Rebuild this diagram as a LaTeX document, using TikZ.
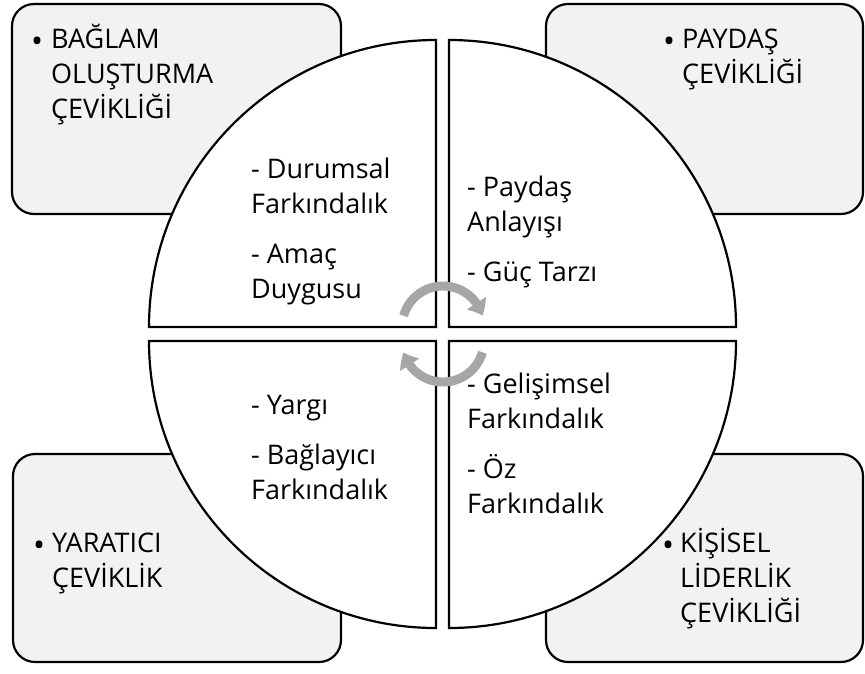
\documentclass[tikz,border=0pt]{standalone}
\usepackage{fontspec}
\setmainfont{Open Sans}
\usetikzlibrary{arrows.meta,bending}
\definecolor{boxgray}{HTML}{F2F2F2}
\definecolor{arrowgray}{HTML}{A6A6A6}
\newcommand{\bul}{{\fontsize{32}{35}\selectfont\raisebox{-4.5pt}{•}}}
\begin{document}
\begin{tikzpicture}[x=1pt,y=-1pt,
  box/.style={draw=black, line width=2.2pt, fill=boxgray, rounded corners=22pt},
  quad/.style={draw=black, line width=2.2pt, fill=white},
  txt/.style={anchor=base west, inner sep=0pt, font=\fontsize{27}{35}\selectfont},
  bullet/.style={anchor=base west, inner sep=0pt},
  cyc/.style={draw=arrowgray, line width=9pt, -{Triangle[width=22pt,length=14pt,bend]}}
]
\useasboundingbox (0,0) rectangle (865,673);
% corner boxes
\draw[box] (12,4) rectangle (341,214);
\draw[box] (546,4) rectangle (863,214);
\draw[box] (13,454) rectangle (341,662);
\draw[box] (546,454) rectangle (863,662);
% quadrants
\draw[quad] (436,327) -- (149,327) arc[start angle=180, end angle=270, radius=287] -- cycle;
\draw[quad] (449,327) -- (449,40) arc[start angle=270, end angle=360, radius=287] -- cycle;
\draw[quad] (449,341) -- (736,341) arc[start angle=0, end angle=90, radius=287] -- cycle;
\draw[quad] (436,341) -- (436,628) arc[start angle=90, end angle=180, radius=287] -- cycle;
% cycle arrows
\coordinate (cu) at (443,327);
\coordinate (cl) at (443,341);
\draw[cyc] ([shift={(196:41)}]cu) arc[start angle=196, end angle=344, radius=41];
\draw[cyc] ([shift={(16:41)}]cl) arc[start angle=16, end angle=164, radius=41];
% box texts
\node[bullet] (a0) at (31,48) {\bul};
\node[txt] (a1) at (51,48) {BAĞLAM};
\node[txt] (a2) at (51,83) {OLUŞTURMA};
\node[txt] (a3) at (51,118) {ÇEVİKLİĞİ};
\node[bullet] (b0) at (663,48) {\bul};
\node[txt] (b1) at (682,48) {PAYDAŞ};
\node[txt] (b2) at (682,83) {ÇEVİKLİĞİ};
\node[bullet] (c0) at (33,552) {\bul};
\node[txt] (c1) at (52,552) {YARATICI};
\node[txt] (c2) at (52,587) {ÇEVİKLİK};
\node[bullet] (d0) at (662,552) {\bul};
\node[txt] (d1) at (680,552) {KİŞİSEL};
\node[txt] (d2) at (680,587) {LİDERLİK};
\node[txt] (d3) at (680,622) {ÇEVİKLİĞİ};
% quadrant texts
\node[txt] (q1) at (251,178) {- Durumsal};
\node[txt] (q2) at (251,213) {Farkındalık};
\node[txt] (q3) at (251,263) {- Amaç};
\node[txt] (q4) at (251,298) {Duygusu};
\node[txt] (r1) at (467,196) {- Paydaş};
\node[txt] (r2) at (467,231) {Anlayışı};
\node[txt] (r3) at (467,281) {- Güç Tarzı};
\node[txt] (s1) at (251,414) {- Yargı};
\node[txt] (s2) at (251,464) {- Bağlayıcı};
\node[txt] (s3) at (251,499) {Farkındalık};
\node[txt] (t1) at (467,393) {- Gelişimsel};
\node[txt] (t2) at (467,428) {Farkındalık};
\node[txt] (t3) at (467,478) {- Öz};
\node[txt] (t4) at (467,513) {Farkındalık};
\end{tikzpicture}
\end{document}
